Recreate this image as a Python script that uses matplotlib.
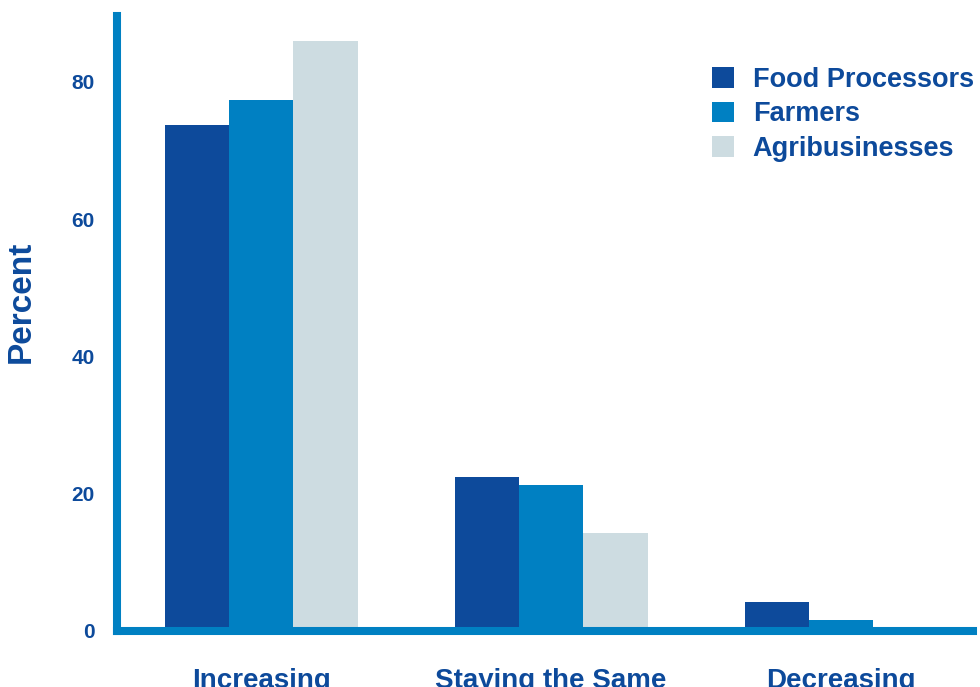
import matplotlib
matplotlib.use("Agg")
import matplotlib.pyplot as plt
import numpy as np

plt.rcParams['font.family'] = ['Liberation Sans', 'DejaVu Sans']

categories = ["Increasing", "Staying the Same", "Decreasing"]
food_processors = [73.7, 22.4, 4.2]
farmers = [77.3, 21.2, 1.6]
agribusinesses = [86.0, 14.3, 0.0]

dark = "#0d4a9b"
mid = "#0080c2"
light = "#cddce1"

fig = plt.figure(figsize=(9.8, 6.87), dpi=100)
ax = fig.add_axes([0.1194, 0.082, 0.8735, 0.8947])

x = np.arange(len(categories))
w = 0.222
ax.bar(x - w, food_processors, w, color=dark, label="Food Processors")
ax.bar(x, farmers, w, color=mid, label="Farmers")
ax.bar(x + w, agribusinesses, w, color=light, label="Agribusinesses")

ax.set_xlim(-0.497, 2.455)
ax.set_ylim(0, 89.6)
ax.set_yticks([0, 20, 40, 60, 80])
ax.set_xticks(x)
ax.set_xticklabels(categories)

for s in ["top", "right"]:
    ax.spines[s].set_visible(False)
for s in ["left", "bottom"]:
    ax.spines[s].set_color(mid)
    ax.spines[s].set_linewidth(5.8)

ax.tick_params(axis="y", length=0, pad=16, labelsize=15, labelcolor=dark)
ax.tick_params(axis="x", length=0, pad=27, labelsize=20, labelcolor=dark)
for lab in ax.get_xticklabels() + ax.get_yticklabels():
    lab.set_fontweight("bold")

fig.text(0.022, 1 - 302 / 687, "Percent", rotation=90, ha="center", va="center",
         fontsize=24, fontweight="bold", color=dark)

leg = ax.legend(loc="upper left", bbox_to_anchor=(0.6825, 0.935), frameon=False,
                fontsize=19.5, handlelength=0.8, handleheight=0.8,
                handletextpad=0.7, labelspacing=0.32, borderaxespad=0)
for t in leg.get_texts():
    t.set_color(dark)
    t.set_fontweight("bold")

fig.savefig("out.png", dpi=100)
